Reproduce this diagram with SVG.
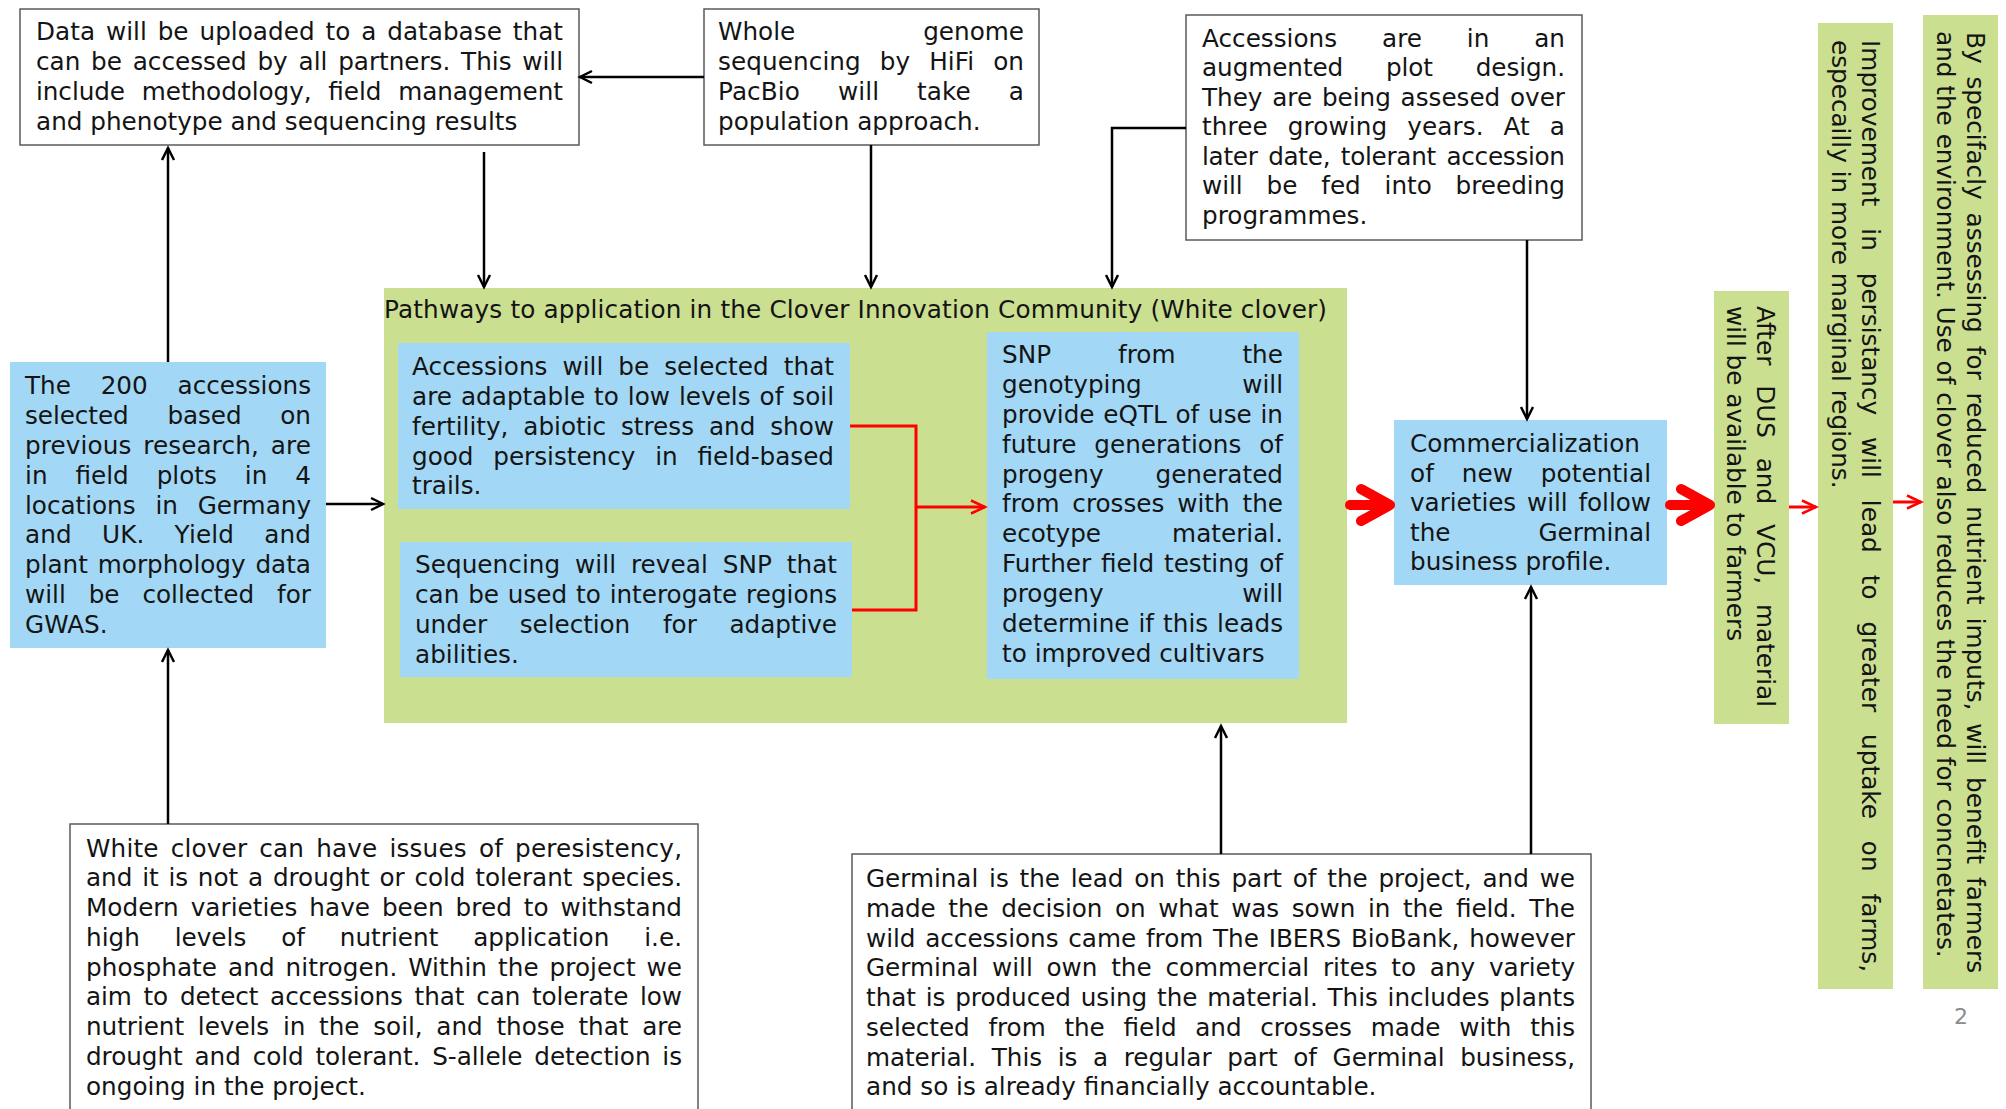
<svg xmlns="http://www.w3.org/2000/svg" width="2006" height="1109" viewBox="0 0 2006 1109">
<style>
text{font-family:"DejaVu Sans",Verdana,sans-serif;font-size:24.7px;fill:#141414}
.wb{fill:#fff;stroke:#5a5a5a;stroke-width:1.5}
.bl{fill:#a2d8f5}
.gr{fill:#cbdf91}
.ln{fill:none;stroke:#000;stroke-width:2.5}
.rd{fill:none;stroke:#f00;stroke-width:3}
.big{fill:none;stroke:#f00;stroke-width:10;stroke-linecap:round;stroke-linejoin:round}
.e{text-anchor:end}
.pg{font-size:22px;fill:#8c8c8c;text-anchor:middle}
</style>
<defs>
<marker id="ah" markerWidth="16" markerHeight="16" refX="13" refY="7" orient="auto" markerUnits="userSpaceOnUse" overflow="visible"><path d="M1,1 L13,7 L1,13" fill="none" stroke="#000" stroke-width="2.5"/></marker>
<marker id="ahr" markerWidth="18" markerHeight="16" refX="15" refY="7" orient="auto" markerUnits="userSpaceOnUse" overflow="visible"><path d="M1,0.5 L15,7 L1,13.5" fill="none" stroke="#f00" stroke-width="2.5"/></marker>
</defs>

<g id="data-box">
<rect class="wb" x="20" y="9" width="559" height="136"/>
<text x="36" y="40" textLength="527" lengthAdjust="spacing" word-spacing="3">Data will be uploaded to a database that</text>
<text x="36" y="70" textLength="527" lengthAdjust="spacing" word-spacing="3">can be accessed by all partners. This will</text>
<text x="36" y="100" textLength="527" lengthAdjust="spacing" word-spacing="9">include methodology, field management</text>
<text x="36" y="130">and phenotype and sequencing results</text>
</g>

<g id="wgs-box">
<rect class="wb" x="704" y="9" width="335" height="136"/>
<text x="718" y="40">Whole</text><text class="e" x="1024" y="40">genome</text>
<text x="718" y="70" textLength="306" lengthAdjust="spacing" word-spacing="11">sequencing by HiFi on</text>
<text x="718" y="100" textLength="306" lengthAdjust="spacing" word-spacing="30">PacBio will take a</text>
<text x="718" y="130">population approach.</text>
</g>

<g id="plot-design-box">
<rect class="wb" x="1186" y="15" width="396" height="225"/>
<text x="1202" y="47" textLength="363" lengthAdjust="spacing" word-spacing="37">Accessions are in an</text>
<text x="1202" y="76" textLength="363" lengthAdjust="spacing" word-spacing="35">augmented plot design.</text>
<text x="1202" y="106" textLength="363" lengthAdjust="spacing" word-spacing="2">They are being assesed over</text>
<text x="1202" y="135" textLength="363" lengthAdjust="spacing" word-spacing="12">three growing years. At a</text>
<text x="1202" y="165" textLength="363" lengthAdjust="spacing" word-spacing="3">later date, tolerant accession</text>
<text x="1202" y="194" textLength="363" lengthAdjust="spacing" word-spacing="16">will be fed into breeding</text>
<text x="1202" y="224">programmes.</text>
</g>

<g id="pathways">
<rect class="gr" x="384" y="288" width="963" height="435"/>
<text x="384" y="318" textLength="943" lengthAdjust="spacing">Pathways to application in the Clover Innovation Community (White clover)</text>
</g>

<g id="accessions-200">
<rect class="bl" x="10" y="362" width="316" height="286"/>
<text x="25" y="394" textLength="286" lengthAdjust="spacing" word-spacing="22">The 200 accessions</text>
<text x="25" y="424" textLength="286" lengthAdjust="spacing" word-spacing="31">selected based on</text>
<text x="25" y="454" textLength="286" lengthAdjust="spacing" word-spacing="4">previous research, are</text>
<text x="25" y="484" textLength="286" lengthAdjust="spacing" word-spacing="20">in field plots in 4</text>
<text x="25" y="514" textLength="286" lengthAdjust="spacing" word-spacing="12">locations in Germany</text>
<text x="25" y="543" textLength="286" lengthAdjust="spacing" word-spacing="22">and UK. Yield and</text>
<text x="25" y="573" textLength="286" lengthAdjust="spacing" word-spacing="2">plant morphology data</text>
<text x="25" y="603" textLength="286" lengthAdjust="spacing" word-spacing="15">will be collected for</text>
<text x="25" y="633">GWAS.</text>
</g>

<g id="accessions-selected">
<rect class="bl" x="398" y="343" width="452" height="166"/>
<text x="412" y="375" textLength="422" lengthAdjust="spacing" word-spacing="7">Accessions will be selected that</text>
<text x="412" y="405" textLength="422" lengthAdjust="spacing" word-spacing="1">are adaptable to low levels of soil</text>
<text x="412" y="435" textLength="422" lengthAdjust="spacing" word-spacing="7">fertility, abiotic stress and show</text>
<text x="412" y="465" textLength="422" lengthAdjust="spacing" word-spacing="12">good persistency in field-based</text>
<text x="412" y="494">trails.</text>
</g>

<g id="sequencing">
<rect class="bl" x="400" y="542" width="452" height="135"/>
<text x="415" y="573" textLength="422" lengthAdjust="spacing" word-spacing="7">Sequencing will reveal SNP that</text>
<text x="415" y="603" textLength="422" lengthAdjust="spacing" word-spacing="1">can be used to interogate regions</text>
<text x="415" y="633" textLength="422" lengthAdjust="spacing" word-spacing="25">under selection for adaptive</text>
<text x="415" y="663">abilities.</text>
</g>

<g id="snp">
<rect class="bl" x="987" y="332" width="312" height="347"/>
<text x="1002" y="363" textLength="281" lengthAdjust="spacing" word-spacing="59">SNP from the</text>
<text x="1002" y="393">genotyping</text><text class="e" x="1283" y="393">will</text>
<text x="1002" y="423" textLength="281" lengthAdjust="spacing" word-spacing="1">provide eQTL of use in</text>
<text x="1002" y="453" textLength="281" lengthAdjust="spacing" word-spacing="10">future generations of</text>
<text x="1002" y="483">progeny</text><text class="e" x="1283" y="483">generated</text>
<text x="1002" y="512" textLength="281" lengthAdjust="spacing" word-spacing="5">from crosses with the</text>
<text x="1002" y="542">ecotype</text><text class="e" x="1283" y="542">material.</text>
<text x="1002" y="572" textLength="281" lengthAdjust="spacing" word-spacing="2">Further field testing of</text>
<text x="1002" y="602">progeny</text><text class="e" x="1283" y="602">will</text>
<text x="1002" y="632" textLength="281" lengthAdjust="spacing" word-spacing="1">determine if this leads</text>
<text x="1002" y="662">to improved cultivars</text>
</g>

<g id="commercialization">
<rect class="bl" x="1394" y="420" width="273" height="165"/>
<text x="1410" y="452">Commercialization</text>
<text x="1410" y="482" textLength="241" lengthAdjust="spacing" word-spacing="20">of new potential</text>
<text x="1410" y="511" textLength="241" lengthAdjust="spacing" word-spacing="3">varieties will follow</text>
<text x="1410" y="541">the</text><text class="e" x="1651" y="541">Germinal</text>
<text x="1410" y="570">business profile.</text>
</g>

<g id="dus-vcu">
<rect class="gr" x="1714" y="291" width="75" height="433"/>
<g transform="rotate(90)">
<text x="306" y="-1757" textLength="401" lengthAdjust="spacing" word-spacing="12">After DUS and VCU, material</text>
<text x="306" y="-1727">will be available to farmers</text>
</g>
</g>

<g id="persistency">
<rect class="gr" x="1818" y="23" width="75" height="966"/>
<g transform="rotate(90)">
<text x="40" y="-1862" textLength="932" lengthAdjust="spacing" word-spacing="14">Improvement in persistancy will lead to greater uptake on farms,</text>
<text x="40" y="-1832">especailly in more marginal regions.</text>
</g>
</g>

<g id="benefit">
<rect class="gr" x="1923" y="15" width="75" height="974"/>
<g transform="rotate(90)">
<text x="32" y="-1967" textLength="941" lengthAdjust="spacing" word-spacing="5">By specifacly assessing for reduced nutrient imputs, will benefit farmers</text>
<text x="31" y="-1937">and the environment. Use of clover also reduces the need for concnetates.</text>
</g>
</g>

<g id="white-clover-issues">
<rect class="wb" x="70" y="824" width="628" height="300"/>
<text x="86" y="857" textLength="596" lengthAdjust="spacing" word-spacing="4">White clover can have issues of peresistency,</text>
<text x="86" y="886" textLength="596" lengthAdjust="spacing" word-spacing="2">and it is not a drought or cold tolerant species.</text>
<text x="86" y="916" textLength="596" lengthAdjust="spacing" word-spacing="4">Modern varieties have been bred to withstand</text>
<text x="86" y="946" textLength="596" lengthAdjust="spacing" word-spacing="27">high levels of nutrient application i.e.</text>
<text x="86" y="976" textLength="596" lengthAdjust="spacing" word-spacing="3">phosphate and nitrogen. Within the project we</text>
<text x="86" y="1005" textLength="596" lengthAdjust="spacing" word-spacing="4">aim to detect accessions that can tolerate low</text>
<text x="86" y="1035" textLength="596" lengthAdjust="spacing" word-spacing="6">nutrient levels in the soil, and those that are</text>
<text x="86" y="1065" textLength="596" lengthAdjust="spacing" word-spacing="4">drought and cold tolerant. S-allele detection is</text>
<text x="86" y="1095">ongoing in the project.</text>
</g>

<g id="germinal">
<rect class="wb" x="852" y="854" width="739" height="300"/>
<text x="866" y="887" textLength="709" lengthAdjust="spacing" word-spacing="3">Germinal is the lead on this part of the project, and we</text>
<text x="866" y="917" textLength="709" lengthAdjust="spacing" word-spacing="5">made the decision on what was sown in the field. The</text>
<text x="866" y="947" textLength="709" lengthAdjust="spacing" word-spacing="2">wild accessions came from The IBERS BioBank, however</text>
<text x="866" y="976" textLength="709" lengthAdjust="spacing" word-spacing="6">Germinal will own the commercial rites to any variety</text>
<text x="866" y="1006" textLength="709" lengthAdjust="spacing" word-spacing="2">that is produced using the material. This includes plants</text>
<text x="866" y="1036" textLength="709" lengthAdjust="spacing" word-spacing="11">selected from the field and crosses made with this</text>
<text x="866" y="1066" textLength="709" lengthAdjust="spacing" word-spacing="8">material. This is a regular part of Germinal business,</text>
<text x="866" y="1095">and so is already financially accountable.</text>
</g>

<g id="connectors">
<line class="ln" x1="704" y1="77" x2="580" y2="77" marker-end="url(#ah)"/>
<line class="ln" x1="484" y1="152" x2="484" y2="287" marker-end="url(#ah)"/>
<line class="ln" x1="168" y1="362" x2="168" y2="148" marker-end="url(#ah)"/>
<line class="ln" x1="871" y1="145" x2="871" y2="287" marker-end="url(#ah)"/>
<polyline class="ln" points="1186,128 1112,128 1112,287" marker-end="url(#ah)"/>
<line class="ln" x1="1527" y1="240" x2="1527" y2="419" marker-end="url(#ah)"/>
<line class="ln" x1="326" y1="504" x2="383" y2="504" marker-end="url(#ah)"/>
<line class="ln" x1="168" y1="824" x2="168" y2="650" marker-end="url(#ah)"/>
<line class="ln" x1="1221" y1="854" x2="1221" y2="726" marker-end="url(#ah)"/>
<line class="ln" x1="1531" y1="854" x2="1531" y2="587" marker-end="url(#ah)"/>
<polyline class="rd" points="850,426 916,426 916,610 852,610"/>
<line class="rd" x1="916" y1="507" x2="985" y2="507" marker-end="url(#ahr)"/>
<line class="big" x1="1350" y1="505" x2="1386" y2="505"/>
<polyline class="big" points="1361,489 1390,505 1361,521"/>
<line class="big" x1="1670" y1="505" x2="1706" y2="505"/>
<polyline class="big" points="1681,489 1710,505 1681,521"/>
<line class="rd" x1="1789" y1="507" x2="1816" y2="507" marker-end="url(#ahr)"/>
<line class="rd" x1="1893" y1="502" x2="1921" y2="502" marker-end="url(#ahr)"/>
</g>

<text class="pg" x="1961" y="1024">2</text>
</svg>
